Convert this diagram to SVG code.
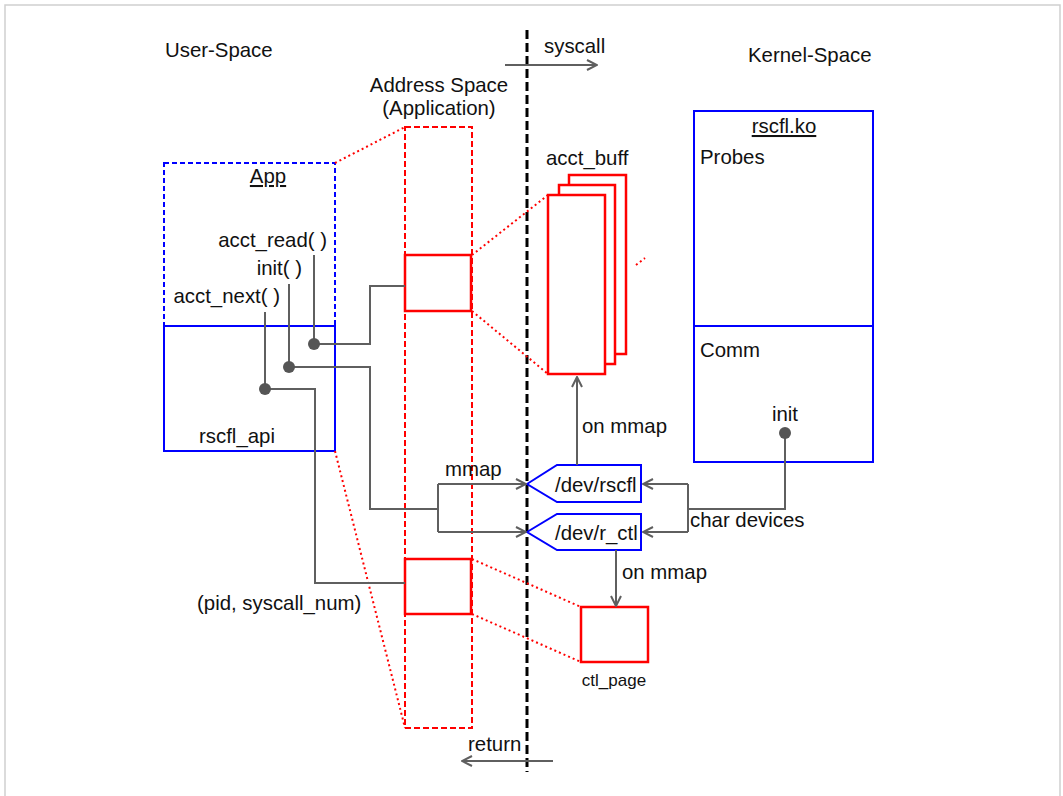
<svg xmlns="http://www.w3.org/2000/svg" width="1063" height="796" viewBox="0 0 1063 796">
<defs>
<style>
text{font-family:"Liberation Sans",Arial,sans-serif;font-size:20.4px;fill:#111}
.u{text-decoration:underline}
.conn{fill:none;stroke:#5f5f5f;stroke-width:2}
.dot{fill:#555}
.red{fill:none;stroke:#ff0000;stroke-width:2.5}
.redf{fill:#fff;stroke:#ff0000;stroke-width:2.5}
.reddash{fill:none;stroke:#ff0000;stroke-width:2;stroke-dasharray:6,3}
.reddot{fill:none;stroke:#ff0000;stroke-width:2;stroke-dasharray:2,3}
.blue{fill:none;stroke:#0000ff;stroke-width:2}
.bluef{fill:#fff;stroke:#0000ff;stroke-width:2}
.bluedash{fill:none;stroke:#0000ff;stroke-width:2;stroke-dasharray:5,3}
</style>
<marker id="arr" viewBox="0 0 12 12" refX="11" refY="6" markerWidth="12" markerHeight="12" markerUnits="userSpaceOnUse" orient="auto">
<path d="M1,1 L11,6 L1,11" fill="none" stroke="#5f5f5f" stroke-width="2"/>
</marker>
</defs>
<rect x="0" y="0" width="1063" height="796" fill="#fff"/>
<rect x="5" y="5" width="1055" height="810" fill="none" stroke="#cfcfcf" stroke-width="1.5"/>

<g id="labels">
<text x="165" y="57">User-Space</text>
<text x="748" y="62">Kernel-Space</text>
<text x="439" y="92" text-anchor="middle">Address Space</text>
<text x="439" y="115" text-anchor="middle">(Application)</text>
<text x="544" y="53">syscall</text>
<text x="468" y="751">return</text>
</g>

<g id="boundary">
<line x1="527" y1="30" x2="527" y2="772" stroke="#000" stroke-width="3" stroke-dasharray="9,4"/>
</g>

<g id="addr-space">
<rect class="reddash" x="405" y="127" width="67" height="601"/>
</g>

<g id="app">
<rect class="bluedash" x="164" y="163" width="171" height="163"/>
<text class="u" x="268" y="183" text-anchor="middle">App</text>
<text x="327" y="247" text-anchor="end">acct_read( )</text>
<text x="302" y="275" text-anchor="end">init( )</text>
<text x="280" y="303" text-anchor="end">acct_next( )</text>
</g>

<g id="rscfl_api">
<rect class="blue" x="164" y="326" width="171" height="125"/>
<text x="199" y="443">rscfl_api</text>
</g>

<g id="zoom-lines">
<line class="reddot" x1="335" y1="163" x2="405" y2="127"/>
<line class="reddot" x1="335" y1="451" x2="405" y2="728"/>
<line class="reddot" x1="472" y1="255" x2="548" y2="195"/>
<line class="reddot" x1="472" y1="311" x2="548" y2="374"/>
<line class="reddot" x1="472" y1="559" x2="581" y2="607"/>
<line class="reddot" x1="472" y1="614" x2="581" y2="662"/>
<line class="reddot" x1="636" y1="265" x2="645" y2="258"/>
</g>

<g id="acct-box">
<rect class="red" x="405" y="255" width="66" height="56"/>
</g>
<g id="pid-box">
<rect class="red" x="405" y="559" width="66" height="55"/>
</g>

<g id="acct_buff">
<text x="546" y="165">acct_buff</text>
<rect class="redf" x="569" y="175" width="57" height="179"/>
<rect class="redf" x="559" y="185" width="56" height="179"/>
<rect class="redf" x="548" y="195" width="57" height="179"/>
</g>

<g id="ctl_page">
<rect class="red" x="581" y="607" width="67" height="55"/>
<text x="614" y="686" text-anchor="middle" style="font-size:17px">ctl_page</text>
</g>

<g id="rscfl_ko">
<rect class="blue" x="694" y="111" width="179" height="351"/>
<line class="blue" x1="694" y1="326" x2="873" y2="326"/>
<text class="u" x="784" y="133" text-anchor="middle">rscfl.ko</text>
<text x="700" y="164">Probes</text>
<text x="700" y="357">Comm</text>
<text x="785" y="421" text-anchor="middle">init</text>
</g>

<g id="dev_rscfl">
<path class="bluef" d="M527,484 L557,465 H641 V502 H557 Z"/>
<text x="555" y="492">/dev/rscfl</text>
</g>
<g id="dev_r_ctl">
<path class="bluef" d="M527,532 L557,514 H641 V550 H557 Z"/>
<text x="555" y="540">/dev/r_ctl</text>
</g>

<g id="connectors">
<path class="conn" d="M505,65 H597" marker-end="url(#arr)"/>
<path class="conn" d="M553,761 H462" marker-end="url(#arr)"/>
<path class="conn" d="M314,255 V343"/>
<path class="conn" d="M289,284 V367"/>
<path class="conn" d="M265,312 V389"/>
<path class="conn" d="M314,344 H370 V286 H405"/>
<path class="conn" d="M289,367 H370 V509 H438"/>
<path class="conn" d="M438,484 V532"/>
<path class="conn" d="M438,484 H526" marker-end="url(#arr)"/>
<path class="conn" d="M438,532 H526" marker-end="url(#arr)"/>
<path class="conn" d="M265,389 H315 V583 H405"/>
<path class="conn" d="M577,465 V377" marker-end="url(#arr)"/>
<path class="conn" d="M616,550 V606" marker-end="url(#arr)"/>
<path class="conn" d="M785,433 V509 H688"/>
<path class="conn" d="M688,484 V532"/>
<path class="conn" d="M688,484 H643" marker-end="url(#arr)"/>
<path class="conn" d="M688,532 H643" marker-end="url(#arr)"/>
<circle class="dot" cx="314" cy="344" r="6"/>
<circle class="dot" cx="289" cy="367" r="6"/>
<circle class="dot" cx="265" cy="389" r="6"/>
<circle class="dot" cx="785" cy="433" r="6"/>
<text x="445" y="476">mmap</text>
<text x="582" y="433">on mmap</text>
<text x="622" y="579">on mmap</text>
<text x="690" y="527">char devices</text>
<text x="197" y="610">(pid, syscall_num)</text>
</g>
</svg>
